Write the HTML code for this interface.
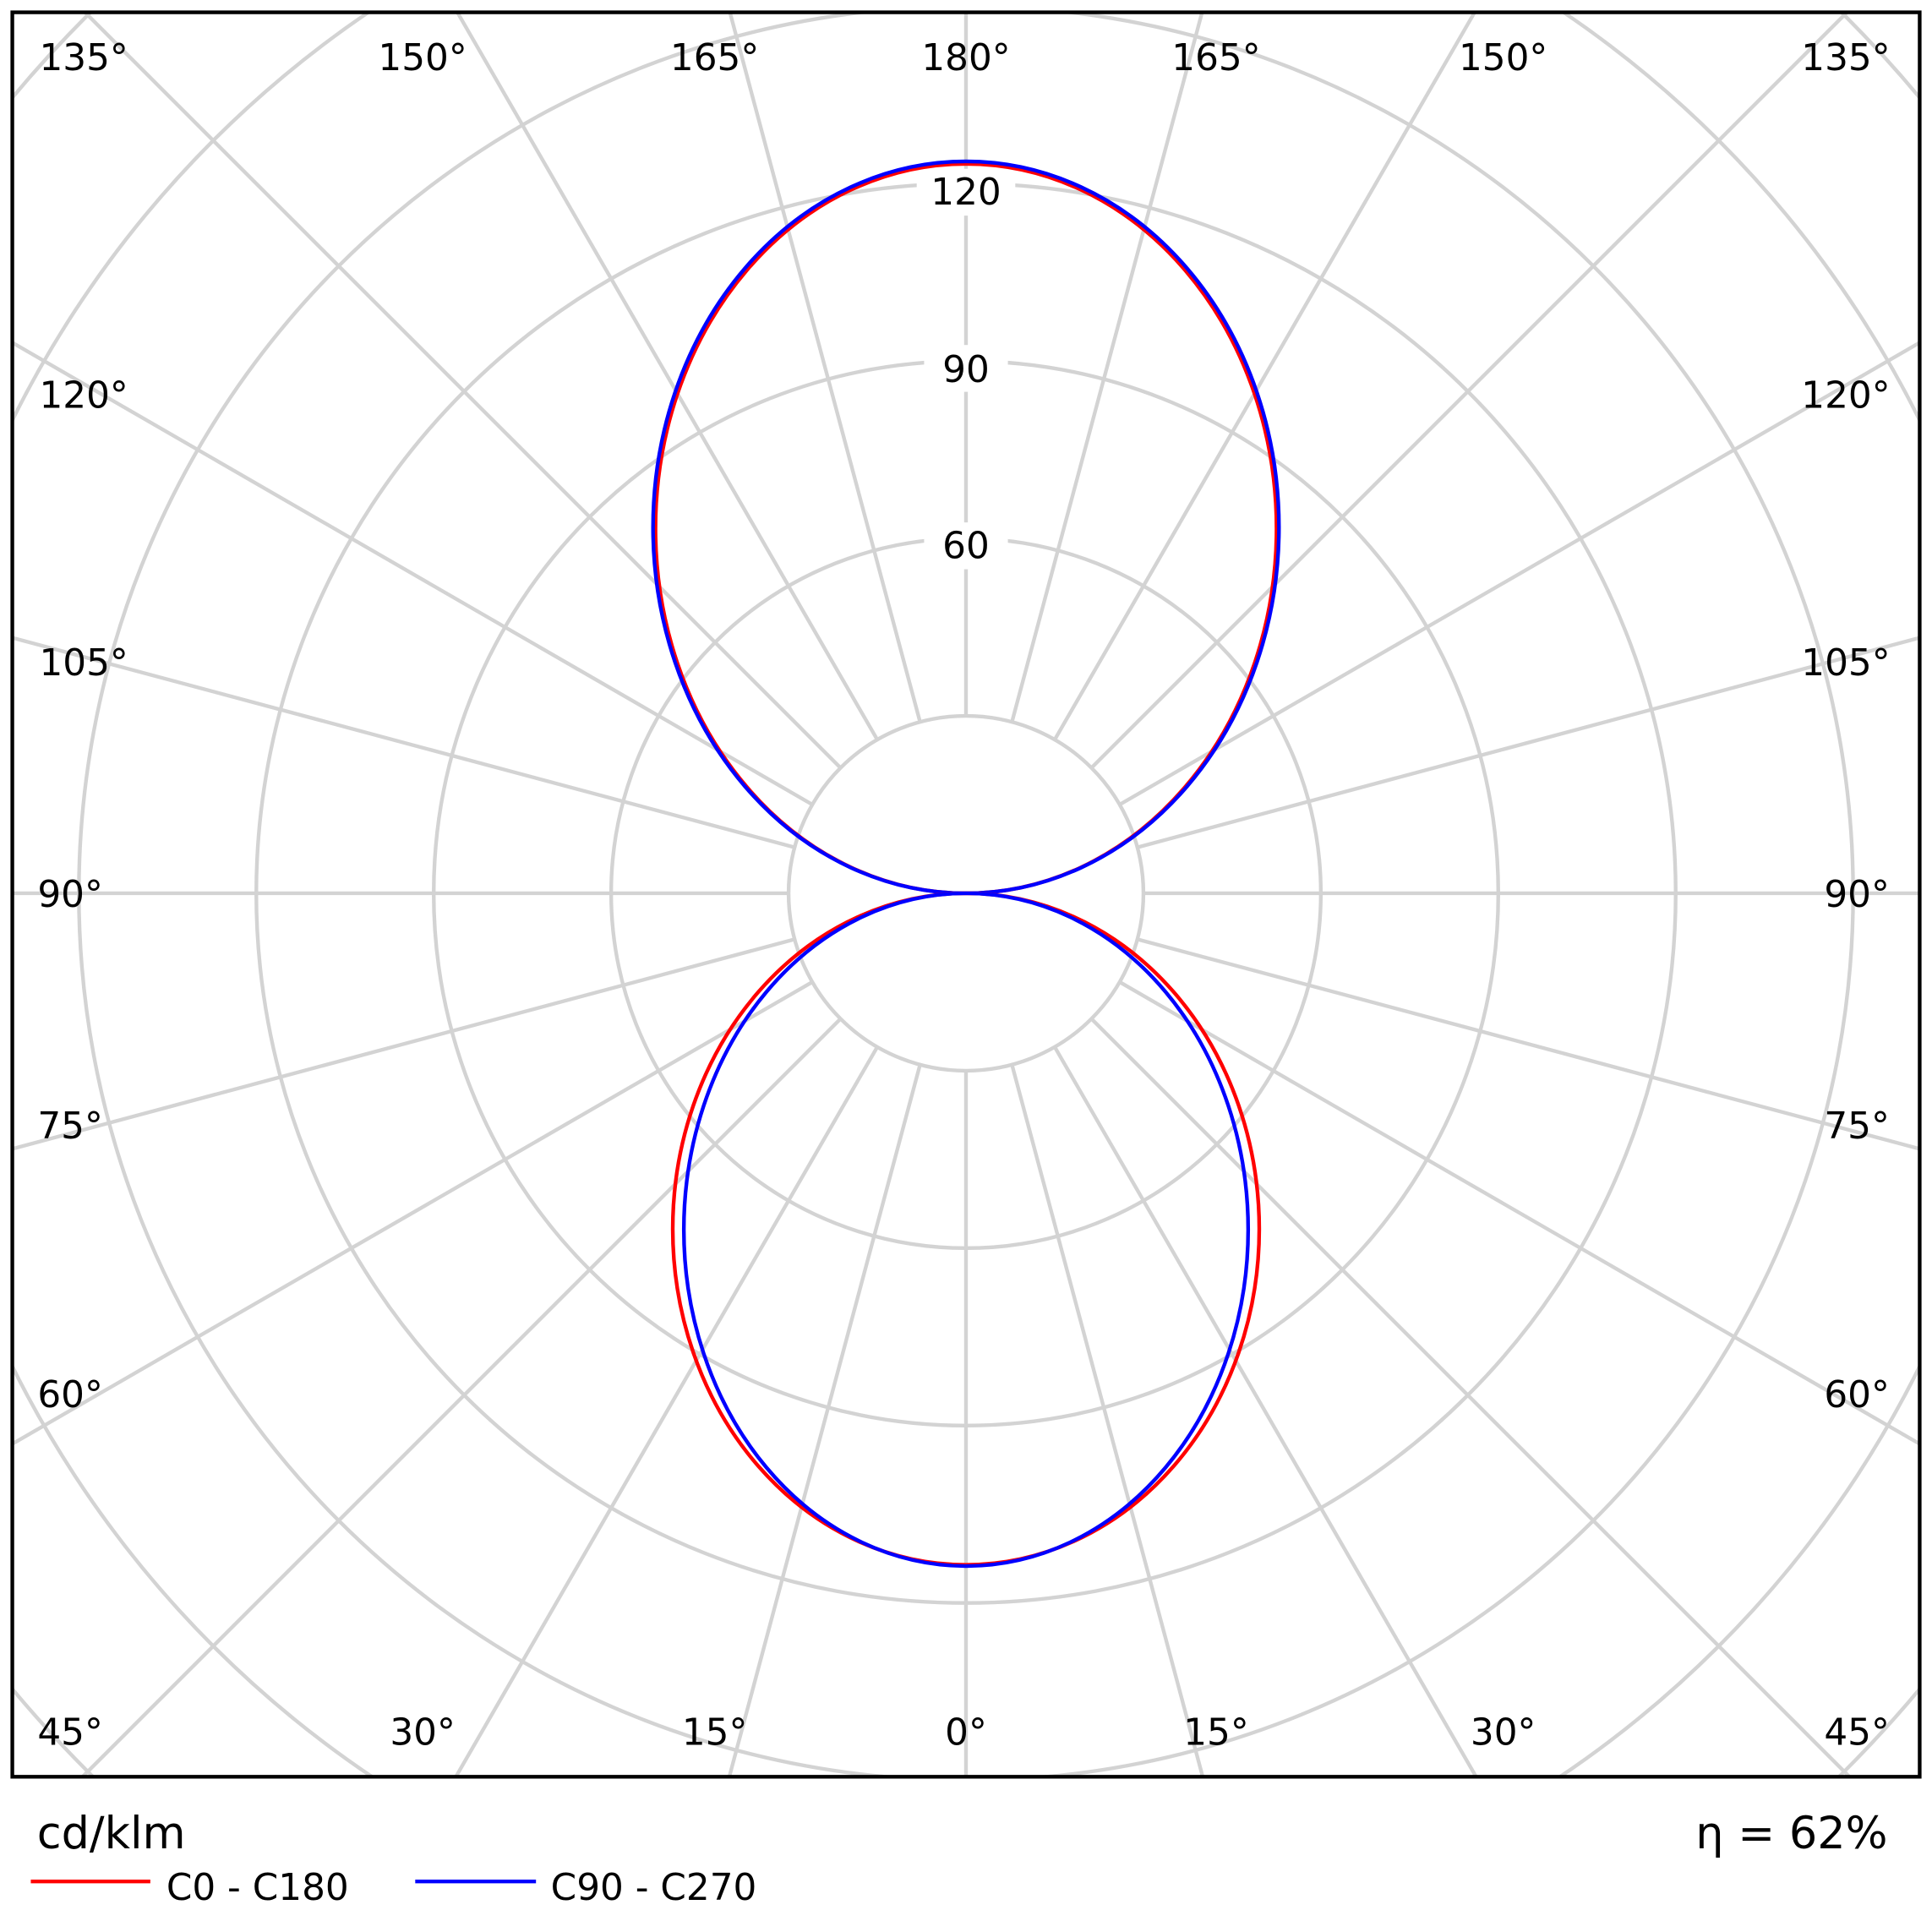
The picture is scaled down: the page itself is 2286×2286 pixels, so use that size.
<!DOCTYPE html>
<html><head><style>html,body{margin:0;padding:0;background:#fff;width:2286px;height:2286px;overflow:hidden}#w{width:2286px;height:2286px;overflow:hidden;position:relative}svg{display:block}</style></head>
<body><div id="w">
<svg width="2286" height="2286" viewBox="0 0 1568 1568" xmlns="http://www.w3.org/2000/svg" font-family="'DejaVu Sans','Liberation Sans',sans-serif" overflow="hidden">
<rect width="1568" height="1568" fill="#fff"/>
<svg x="10" y="10" width="1548" height="1432" viewBox="10 10 1548 1432" overflow="hidden">
<g stroke="#d3d3d3" stroke-width="3" fill="none">
<circle cx="784" cy="725" r="144"/>
<circle cx="784" cy="725" r="288"/>
<circle cx="784" cy="725" r="432"/>
<circle cx="784" cy="725" r="576"/>
<circle cx="784" cy="725" r="720"/>
<circle cx="784" cy="725" r="864"/>
<circle cx="784" cy="725" r="1008"/>
<line x1="928" y1="725" x2="1558" y2="725"/>
<line x1="640" y1="725" x2="10" y2="725"/>
<line x1="923.1" y1="762.3" x2="1558" y2="932.4"/>
<line x1="644.9" y1="762.3" x2="10" y2="932.4"/>
<line x1="908.7" y1="797" x2="1558" y2="1171.9"/>
<line x1="659.3" y1="797" x2="10" y2="1171.9"/>
<line x1="885.8" y1="826.8" x2="1501" y2="1442"/>
<line x1="682.2" y1="826.8" x2="67" y2="1442"/>
<line x1="856" y1="849.7" x2="1198" y2="1442"/>
<line x1="712" y1="849.7" x2="370" y2="1442"/>
<line x1="821.3" y1="864.1" x2="976.1" y2="1442"/>
<line x1="746.7" y1="864.1" x2="591.9" y2="1442"/>
<line x1="784" y1="869" x2="784" y2="1442"/>
<line x1="784" y1="581" x2="784" y2="10"/>
<line x1="821.3" y1="585.9" x2="975.6" y2="10"/>
<line x1="746.7" y1="585.9" x2="592.4" y2="10"/>
<line x1="856" y1="600.3" x2="1196.8" y2="10"/>
<line x1="712" y1="600.3" x2="371.2" y2="10"/>
<line x1="885.8" y1="623.2" x2="1499" y2="10"/>
<line x1="682.2" y1="623.2" x2="69" y2="10"/>
<line x1="908.7" y1="653" x2="1558" y2="278.1"/>
<line x1="659.3" y1="653" x2="10" y2="278.1"/>
<line x1="923.1" y1="687.7" x2="1558" y2="517.6"/>
<line x1="644.9" y1="687.7" x2="10" y2="517.6"/>
</g>
</svg>
<rect x="10" y="10" width="1548" height="1432" fill="none" stroke="#000" stroke-width="3"/>
<g fill="#fff">
<rect x="750" y="280" width="68" height="38"/>
<rect x="750" y="424" width="68" height="38"/>
<rect x="744" y="137" width="80" height="38"/>
</g>
<g font-size="30" text-anchor="middle" fill="#000">
<text x="784" y="166">120</text>
<text x="784" y="310">90</text>
<text x="784" y="453">60</text>
<text x="68" y="57">135°</text><text x="343" y="57">150°</text><text x="580" y="57">165°</text><text x="784" y="57">180°</text><text x="987" y="57">165°</text><text x="1220" y="57">150°</text><text x="1498" y="57">135°</text>
<text x="68" y="331">120°</text><text x="68" y="548">105°</text><text x="57" y="736">90°</text><text x="57" y="924">75°</text><text x="57" y="1142">60°</text>
<text x="1498" y="331">120°</text><text x="1498" y="548">105°</text><text x="1507" y="736">90°</text><text x="1507" y="924">75°</text><text x="1507" y="1142">60°</text>
<text x="57" y="1416">45°</text><text x="343" y="1416">30°</text><text x="580" y="1416">15°</text><text x="784" y="1416">0°</text><text x="987" y="1416">15°</text><text x="1220" y="1416">30°</text><text x="1507" y="1416">45°</text>
</g>
<g fill="none" stroke-width="3">
<ellipse cx="784" cy="429" rx="252" ry="296" stroke="#f00"/>
<ellipse cx="784" cy="428" rx="254" ry="297" stroke="#00f"/>
<ellipse cx="784" cy="997.5" rx="238" ry="272.5" stroke="#f00"/>
<ellipse cx="784" cy="998" rx="229" ry="273" stroke="#00f"/>
</g>
<text x="30" y="1500" font-size="36">cd/klm</text>
<text x="1532" y="1500" font-size="36" text-anchor="end">η = 62%</text>
<line x1="25" y1="1527" x2="122" y2="1527" stroke="#f00" stroke-width="3"/>
<text x="135" y="1542" font-size="30">C0 - C180</text>
<line x1="337" y1="1527" x2="435" y2="1527" stroke="#00f" stroke-width="3"/>
<text x="447" y="1542" font-size="30">C90 - C270</text>
</svg>
</div></body></html>
